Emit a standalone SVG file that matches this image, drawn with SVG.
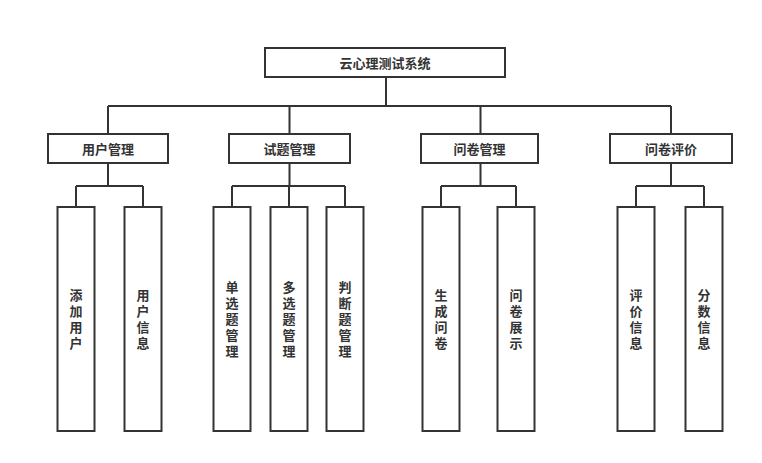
<svg xmlns="http://www.w3.org/2000/svg" width="762" height="463" viewBox="0 0 762 463">
<style>
.box{fill:#fff;stroke:#333;stroke-width:2}
.t{font-family:"Noto Sans CJK SC","Noto Sans",sans-serif;font-size:13px;font-weight:bold;fill:#333;text-anchor:middle;dominant-baseline:central}
.v{font-family:"Noto Sans CJK SC","Noto Sans",sans-serif;font-size:13px;font-weight:bold;fill:#333;text-anchor:middle;writing-mode:vertical-rl;letter-spacing:3px}
.c{fill:none;stroke:#333;stroke-width:2}
</style>
<rect width="762" height="463" fill="#fff"/>
<g id="connectors">
<path class="c" d="M386 77V106M108 106H671M108 106V134M289.5 106V134M480.5 106V134M671 106V134"/>
<path class="c" d="M108 163V186M76 186H143M76 186V207M143 186V207"/>
<path class="c" d="M289.5 163V186M232 186H345M232 186V207M289 186V207M345 186V207"/>
<path class="c" d="M480.5 163V186M441 186H516M441 186V207M516 186V207"/>
<path class="c" d="M671 163V186M636 186H704M636 186V207M704 186V207"/>
</g>
<g id="root"><rect class="box" x="265" y="48" width="240" height="29"/><text class="t" x="385" y="62.5">云心理测试系统</text></g>
<g id="n1"><rect class="box" x="48" y="134" width="120" height="29"/><text class="t" x="108" y="148.5">用户管理</text></g>
<g id="n2"><rect class="box" x="229" y="134" width="121" height="29"/><text class="t" x="289.5" y="148.5">试题管理</text></g>
<g id="n3"><rect class="box" x="421" y="134" width="117" height="29"/><text class="t" x="479.5" y="148.5">问卷管理</text></g>
<g id="n4"><rect class="box" x="610" y="134" width="122" height="29"/><text class="t" x="671" y="148.5">问卷评价</text></g>
<g id="c1"><rect class="box" x="57.5" y="207" width="37" height="224"/><text class="v" x="76" y="320.5">添加用户</text></g>
<g id="c2"><rect class="box" x="124.5" y="207" width="37" height="224"/><text class="v" x="143" y="320.5">用户信息</text></g>
<g id="c3"><rect class="box" x="213.5" y="207" width="37" height="224"/><text class="v" x="232" y="320.5">单选题管理</text></g>
<g id="c4"><rect class="box" x="270.5" y="207" width="37" height="224"/><text class="v" x="289" y="320.5">多选题管理</text></g>
<g id="c5"><rect class="box" x="326.5" y="207" width="37" height="224"/><text class="v" x="345" y="320.5">判断题管理</text></g>
<g id="c6"><rect class="box" x="422.5" y="207" width="37" height="224"/><text class="v" x="441" y="320.5">生成问卷</text></g>
<g id="c7"><rect class="box" x="497.5" y="207" width="37" height="224"/><text class="v" x="516" y="320.5">问卷展示</text></g>
<g id="c8"><rect class="box" x="617.5" y="207" width="37" height="224"/><text class="v" x="636" y="320.5">评价信息</text></g>
<g id="c9"><rect class="box" x="685.5" y="207" width="37" height="224"/><text class="v" x="704" y="320.5">分数信息</text></g>
</svg>
